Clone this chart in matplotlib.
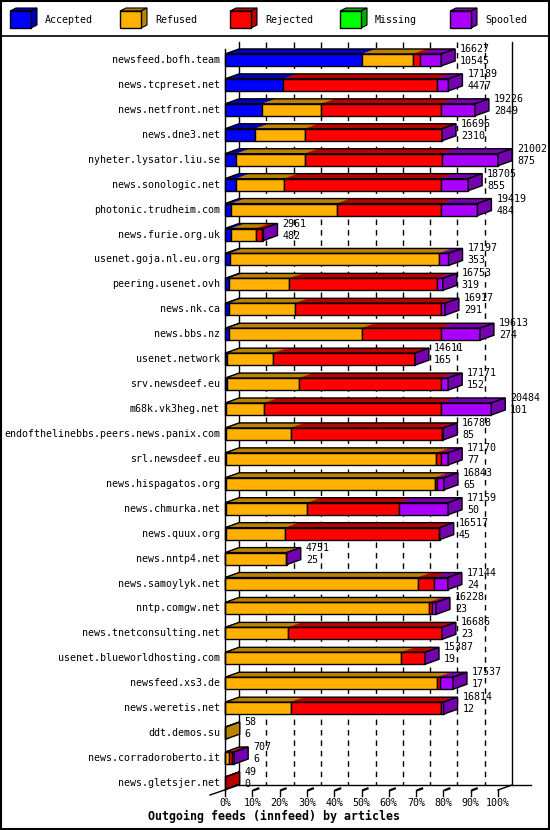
import matplotlib
matplotlib.use('Agg')
import matplotlib.pyplot as plt
from matplotlib.patches import Polygon, Rectangle
from matplotlib.lines import Line2D

# ---- data (articles per feed) ----
hosts = ['newsfeed.bofh.team', 'news.tcpreset.net', 'news.netfront.net', 'news.dne3.net',
         'nyheter.lysator.liu.se', 'news.sonologic.net', 'photonic.trudheim.com',
         'news.furie.org.uk', 'usenet.goja.nl.eu.org', 'peering.usenet.ovh', 'news.nk.ca',
         'news.bbs.nz', 'usenet.network', 'srv.newsdeef.eu', 'm68k.vk3heg.net',
         'endofthelinebbs.peers.news.panix.com', 'srl.newsdeef.eu', 'news.hispagatos.org',
         'news.chmurka.net', 'news.quux.org', 'news.nntp4.net', 'news.samoylyk.net',
         'nntp.comgw.net', 'news.tnetconsulting.net', 'usenet.blueworldhosting.com',
         'newsfeed.xs3.de', 'news.weretis.net', 'ddt.demos.su', 'news.corradoroberto.it',
         'news.gletsjer.net']
total = [16627, 17189, 19226, 16696, 21002, 18705, 19419, 2961, 17197, 16753, 16917,
         19613, 14611, 17171, 20484, 16788, 17170, 16843, 17159, 16517, 4751, 17144,
         16228, 16686, 15387, 17537, 16814, 58, 707, 49]
accepted = [10545, 4477, 2849, 2310, 875, 855, 484, 482, 353, 319, 291, 274, 165, 152,
            101, 85, 77, 65, 50, 45, 25, 24, 23, 23, 19, 17, 12, 6, 6, 0]
refused = [3900, 0, 4560, 3820, 5250, 3700, 8110, 1890, 16080, 4630, 5070, 10240, 3550,
           5570, 2920, 4970, 16180, 16060, 6280, 4600, 4690, 14800, 15640, 4850, 13540,
           16310, 5040, 52, 300, 0]
rejected = [540, 11800, 9180, 10536, 10540, 12030, 8000, 440, 0, 11330, 11280, 6080,
            10870, 10870, 13570, 11640, 335, 150, 7030, 11840, 0, 1280, 280, 11790, 1800,
            200, 11540, 0, 230, 49]
missing = [0, 0, 0, 0, 0, 0, 0, 0, 0, 0, 0, 0, 0, 0, 0, 0, 0, 0, 0, 0, 0, 0, 0, 0, 0,
           0, 0, 0, 0, 0]
spooled = [1642, 912, 2637, 30, 4337, 2120, 2825, 149, 764, 474, 276, 3019, 26, 579, 3893,
           93, 578, 568, 3799, 32, 36, 1040, 285, 23, 28, 1010, 222, 0, 171, 0]

series_names = ['Accepted', 'Refused', 'Rejected', 'Missing', 'Spooled']
series = [accepted, refused, rejected, missing, spooled]
front_cols = ['#0000ff', '#ffb000', '#ff0000', '#00ff00', '#aa00ff']
dark_cols = ['#0000b8', '#bb8200', '#bb0000', '#00b000', '#7400b0']
pct_labels = ['0%', '10%', '20%', '30%', '40%', '50%', '60%', '70%', '80%', '90%', '100%']

FONT = 'DejaVu Sans Mono'
FS = 7.2

# ---- geometry (pixels of the 550x830 canvas) ----
W, H = 550, 830
x0_px, full_px = 225, 273          # front 0% and width of 100%
row0_px, pitch = 60, 24.93         # front-face centre of first row, row spacing
xmax = max(total)
PX = xmax / full_px                # articles per pixel
RY = 1 / pitch                     # rows per pixel
DX, DY = 14 * PX, -5 * RY          # 3d depth offset
BH = 12 * RY                       # bar front height

fig = plt.figure(figsize=(W / 100, H / 100), dpi=100)
ax = fig.add_axes([200 / W, (H - 800) / H, 345 / W, 760 / H])
ax.set_xlim((200 - x0_px) * PX, (545 - x0_px) * PX)
ax.set_ylim((800 - row0_px) * RY, (40 - row0_px) * RY)
ax.axis('off')

def py(p):
    return (p - row0_px) * RY

# back wall, gridlines, floor
top_back, floor_back, floor_front = py(42), py(785), py(790)
ax.add_line(Line2D([DX, DX], [top_back, floor_back], color='black', lw=1, zorder=1))
ax.add_line(Line2D([xmax + DX, xmax + DX], [top_back, floor_back], color='black', lw=1,
                   zorder=1))
ax.add_line(Line2D([0, 0], [py(49), floor_front], color='black', lw=1, zorder=5))
ax.add_line(Line2D([DX, xmax + DX + 19 * PX], [floor_back, floor_back], color='black', lw=1))
ax.add_line(Line2D([-15 * PX, DX], [py(795), floor_back], color='black', lw=1, clip_on=False))
ax.add_line(Line2D([xmax, xmax + DX], [floor_front, floor_back], color='black', lw=1))
for k in range(11):
    xk = xmax * k / 10
    if 0 < k < 10:
        ax.add_line(Line2D([xk + DX, xk + DX], [top_back, floor_back], color='black',
                           lw=1, dashes=(4, 3.5), zorder=1))
        ax.add_line(Line2D([xk + 2 * PX, xk + 6 * PX], [py(790), py(788.5)],
                           color='black', lw=1.6))
    ax.add_line(Line2D([xk, xk], [floor_front, py(796)], color='black', lw=1))
    ax.text(xk, py(803), pct_labels[k], ha='center', va='center', family=FONT, fontsize=FS)

# bars
for i, host in enumerate(hosts):
    ytop, ybot = i - BH / 2, i + BH / 2
    left = 0
    last = None
    for s, vals in enumerate(series):
        v = vals[i]
        if v <= 0:
            continue
        ax.add_patch(Polygon([(left, ytop), (left + v, ytop), (left + v + DX, ytop + DY),
                              (left + DX, ytop + DY)], closed=True, facecolor=dark_cols[s],
                             edgecolor=dark_cols[s], lw=0.3, zorder=2))
        ax.barh(i, v, left=left, height=BH, color=front_cols[s], edgecolor='black',
                linewidth=1, zorder=3)
        left += v
        last = s
    end = total[i]
    ax.add_patch(Polygon([(0, ytop), (end, ytop), (end + DX, ytop + DY), (DX, ytop + DY)],
                         closed=True, fill=False, edgecolor='black', lw=1, zorder=4))
    ax.add_patch(Polygon([(end, ytop), (end + DX, ytop + DY), (end + DX, ybot + DY),
                          (end, ybot)], closed=True, facecolor=dark_cols[last],
                         edgecolor='black', lw=1, zorder=4))
    ax.text(-5 * PX, i, host, ha='right', va='center', family=FONT, fontsize=FS)
    ax.text(end + DX + 5 * PX, i - 11 * RY, str(total[i]), ha='left', va='center',
            family=FONT, fontsize=FS, zorder=6)
    ax.text(end + DX + 5 * PX, i + 1 * RY, str(accepted[i]), ha='left', va='center',
            family=FONT, fontsize=FS, zorder=6)

fig.text(274 / W, 1 - 816 / H, 'Outgoing feeds (innfeed) by articles', ha='center',
         va='center', family=FONT, fontsize=8.4, fontweight='bold')

# legend strip
lg = fig.add_axes([0, 1 - 37 / H, 1, 37 / H])
lg.set_xlim(0, W)
lg.set_ylim(37, 0)
lg.axis('off')
for s, name in enumerate(series_names):
    x = 10 + 110 * s
    lg.add_patch(Polygon([(x, 11), (x + 21, 11), (x + 27, 8), (x + 6, 8)], closed=True,
                         facecolor=dark_cols[s], edgecolor='black', lw=0.8))
    lg.add_patch(Polygon([(x + 21, 11), (x + 27, 8), (x + 27, 25), (x + 21, 28)],
                         closed=True, facecolor=dark_cols[s], edgecolor='black', lw=0.8))
    lg.add_patch(Rectangle((x, 11), 21, 17, facecolor=front_cols[s], edgecolor='black',
                           lw=1))
    lg.text(x + 35, 20, name, ha='left', va='center', family=FONT, fontsize=FS)

fig.add_artist(Line2D([0, 1], [1 - 36.5 / H, 1 - 36.5 / H], color='black', lw=1.2,
                      transform=fig.transFigure))
fig.add_artist(Rectangle((0.001, 0.001), 0.998, 0.998, fill=False, edgecolor='black',
                         lw=1.5, transform=fig.transFigure))

fig.savefig('out.png', dpi=100)
